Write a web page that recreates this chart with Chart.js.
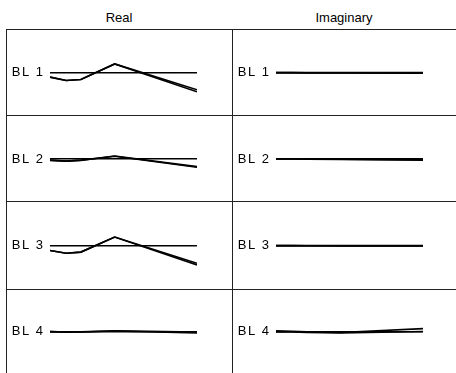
<!DOCTYPE html>
<html>
<head>
<meta charset="utf-8">
<script src="https://cdn.jsdelivr.net/npm/chart.js@4.4.1/dist/chart.umd.min.js"></script>
<style>
  html, body { margin: 0; padding: 0; background: #fff; }
  #wrap { position: relative; width: 456px; height: 373px; overflow: hidden;
          font-family: 'Liberation Sans', Arial, sans-serif; color: #000; }
  .head { position: absolute; top: 10px; font-size: 13px; line-height: 15px; text-align: center; }
  .hline { position: absolute; height: 1px; background: #222; }
  .vline { position: absolute; width: 1px; background: #222; }
  .cell { position: absolute; }
  .cell canvas { display: block; }
</style>
</head>
<body>
<div id="wrap"></div>
<script>
// ---- data (values are offsets from each row's reference line) ----
const columns = ['Real', 'Imaginary'];
const rowLabels = ['BL 1', 'BL 2', 'BL 3', 'BL 4'];
const xs = [0, 11, 21, 44, 100];

// two nearly overlapping traces per panel
const realA = [
  [-6.5, -11.5, -10, 12.7, -25],
  [-1.5, -3, -2, 4.5, -11],
  [-7, -11, -9.3, 12.3, -25.5],
  [0, -0.5, -0.3, 1.3, -0.5]
];
const realB = [
  [-6.5, -11.5, -10, 12.7, -27.8],
  [-2, -3, -1.5, 4, -12],
  [-7, -11, -9.3, 12.3, -27.8],
  [0, -0.7, -0.5, 1, -2]
];
const imagA = [
  [0, 0, 0, 0, 0],
  [0, 0, 0, -0.3, -1],
  [0, 0, 0, 0, 0],
  [1.2, 0.6, -0.3, -1.2, 4.5]
];
const imagB = [
  [0, 0, -0.3, -0.3, -0.8],
  [0, 0, -0.2, -0.5, -1.5],
  [0, 0, -0.2, -0.3, -0.6],
  [-0.3, -0.5, -1.2, -2, 0.3]
];

// ---- layout ----
const rowLines = [29, 115, 201, 289, 373];
const colLines = [6, 232, 456];
const baseOffset = [42.7, 43.3, 43.7, 41.7]; // reference line position inside each row
const padRight = [35, 33];

const wrap = document.getElementById('wrap');

function addDiv(cls, style, text) {
  const d = document.createElement('div');
  d.className = cls;
  Object.assign(d.style, style);
  if (text) d.textContent = text;
  wrap.appendChild(d);
  return d;
}

columns.forEach((name, c) => {
  addDiv('head', { left: colLines[c] + 'px', width: (colLines[c + 1] - colLines[c]) + 'px' }, name);
});
rowLines.slice(0, 4).forEach(y => {
  addDiv('hline', { left: '6px', width: '450px', top: y + 'px' });
});
colLines.slice(0, 2).forEach(x => {
  addDiv('vline', { left: x + 'px', top: '29px', height: '344px' });
});

// a little letter spacing for the panel labels
const spacedText = {
  id: 'spacedText',
  beforeDraw(chart) { chart.ctx.letterSpacing = '1.5px'; },
  afterDraw(chart) { chart.ctx.letterSpacing = '0px'; }
};

function makePanel(r, c) {
  const left = colLines[c] + 1;
  const top = rowLines[r] + 1;
  const w = colLines[c + 1] - left;
  const h = rowLines[r + 1] - top;
  const cell = addDiv('cell', { left: left + 'px', top: top + 'px', width: w + 'px', height: h + 'px' });
  const canvas = document.createElement('canvas');
  canvas.width = w;
  canvas.height = h;
  cell.appendChild(canvas);

  const traces = c === 0 ? [realA[r], realB[r]] : [imagA[r], imagB[r]];

  new Chart(canvas, {
    type: 'line',
    data: {
      datasets: traces.map(vals => ({
        data: vals.map((v, i) => ({ x: xs[i], y: v })),
        borderColor: '#000',
        borderWidth: 1.6,
        pointRadius: 0,
        tension: 0,
        fill: false
      }))
    },
    options: {
      responsive: false,
      animation: false,
      events: [],
      layout: { padding: { left: 0, right: padRight[c], top: 0, bottom: 0 } },
      plugins: { legend: { display: false }, tooltip: { enabled: false } },
      scales: {
        x: { type: 'linear', display: false, min: 0, max: 100 },
        y: {
          min: baseOffset[r] - h,
          max: baseOffset[r],
          afterBuildTicks: s => { s.ticks = [{ value: 0 }]; },
          afterFit: s => { s.width = 43; },
          border: { display: false },
          grid: { color: '#000', lineWidth: 1.5, drawTicks: false },
          ticks: {
            padding: 5.5,
            color: '#000',
            font: { family: "'Liberation Sans', Arial, sans-serif", size: 13 },
            callback: () => rowLabels[r]
          }
        }
      }
    },
    plugins: [spacedText]
  });
}

for (let r = 0; r < 4; r++) {
  for (let c = 0; c < 2; c++) makePanel(r, c);
}
</script>
</body>
</html>
